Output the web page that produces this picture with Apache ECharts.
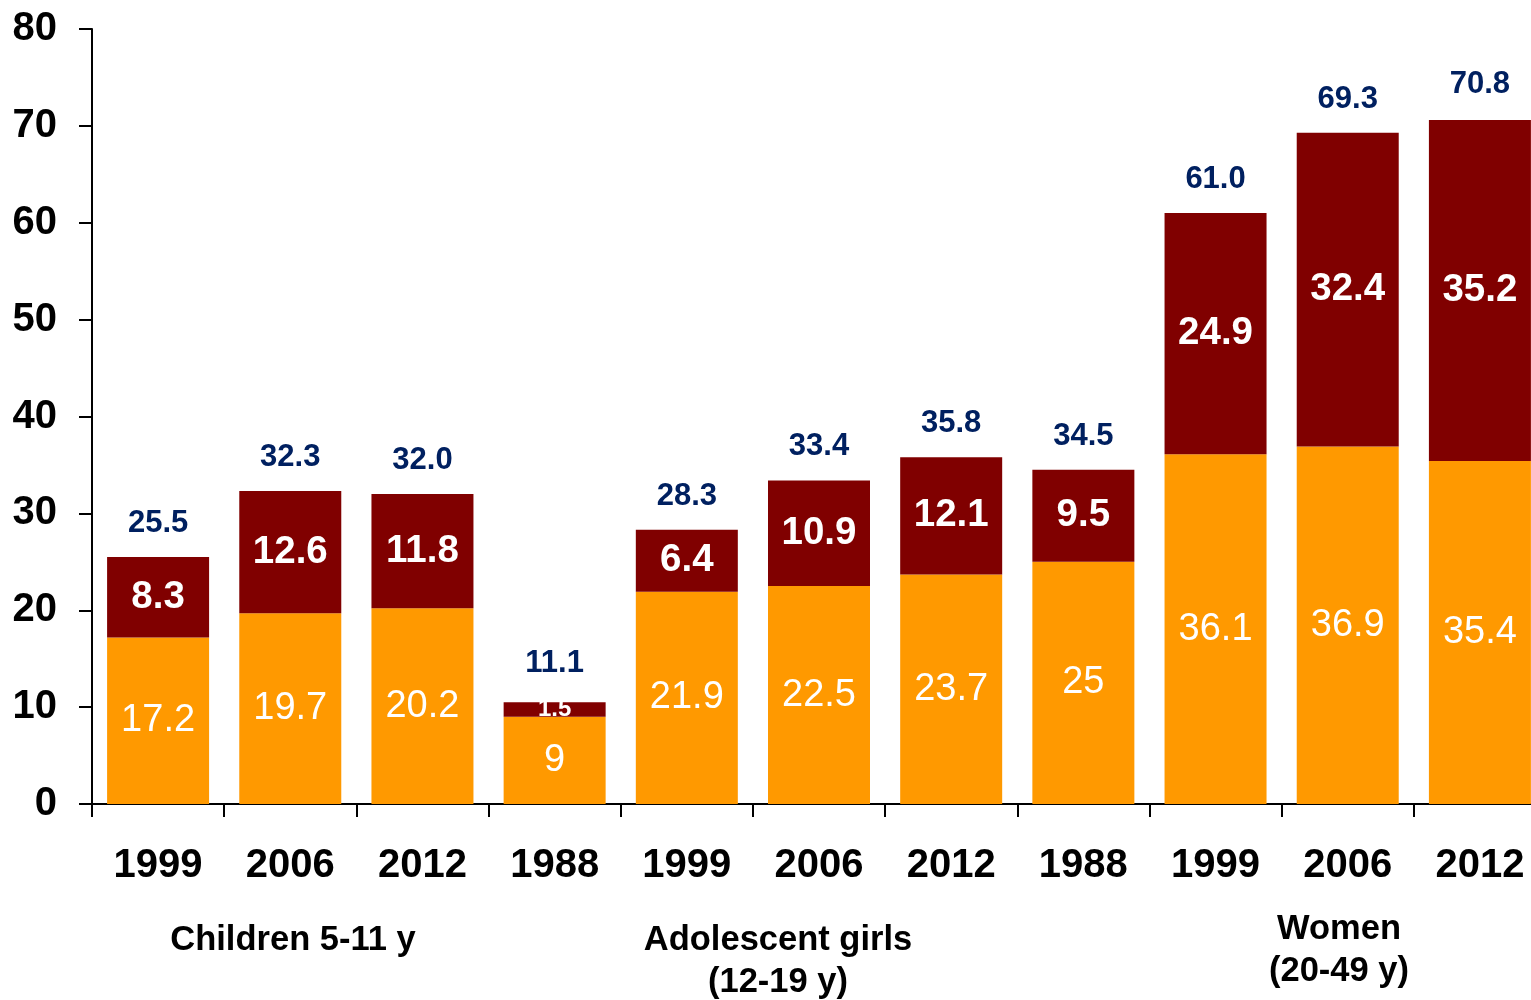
<!DOCTYPE html>
<html>
<head>
<meta charset="utf-8">
<title>Prevalence by survey year</title>
<script src="https://cdn.jsdelivr.net/npm/echarts@6/dist/echarts.min.js"></script>
<style>
  html, body { margin: 0; padding: 0; background: #ffffff; overflow: hidden; }
  /* The plot runs a little past the right edge of the page, so the last bar is cut off */
  #chart { width: 1546px; height: 1000px; }
</style>
</head>
<body>
<div id="chart"></div>
<script>
// Survey years along the axis, grouped by population
const categories = ['1999', '2006', '2012', '1988', '1999', '2006', '2012', '1988', '1999', '2006', '2012'];
// Lower (orange) segment values
const baseValues = [17.2, 19.7, 20.2, 9, 21.9, 22.5, 23.7, 25, 36.1, 36.9, 35.4];
// Upper (dark red) segment values
const topValues = [8.3, 12.6, 11.8, 1.5, 6.4, 10.9, 12.1, 9.5, 24.9, 32.4, 35.2];
// Totals printed above each bar
const totals = [25.5, 32.3, 32.0, 11.1, 28.3, 33.4, 35.8, 34.5, 61.0, 69.3, 70.8];
// Y axis range
const yMin = 0, yMax = 80, yStep = 10;
// Population group captions under the years
const groupNames = ['Children 5-11 y', 'Adolescent girls\n(12-19 y)', 'Women\n(20-49 y)'];

const FONT = '"Liberation Sans", Arial, sans-serif';
const ORANGE = '#FF9900';
const DARK_RED = '#800000';
const NAVY = '#002060';

const chart = echarts.init(document.getElementById('chart'), null, { renderer: 'canvas' });

// Thin upper segments get a smaller label so it fits inside the bar
const topData = topValues.map(v => v < 3
  ? { value: v, label: { fontSize: 24 } }
  : v);

const groupCaptionPos = [
  { x: 293, y: 940 },
  { x: 778, y: 961 },
  { x: 1339, y: 950 }
];

chart.setOption({
  backgroundColor: '#ffffff',
  animation: false,
  grid: { left: 92, right: 0, top: 29, bottom: 196, containLabel: false },
  xAxis: {
    type: 'category',
    data: categories,
    axisLine: { lineStyle: { color: '#000', width: 2 } },
    axisTick: { show: true, length: 13, interval: 0, lineStyle: { color: '#000', width: 2 } },
    axisLabel: {
      interval: 0, margin: 42,
      fontFamily: FONT, fontSize: 40, fontWeight: 'bold', color: '#000'
    }
  },
  yAxis: {
    type: 'value',
    min: yMin, max: yMax, interval: yStep,
    splitLine: { show: false },
    axisLine: { show: true, lineStyle: { color: '#000', width: 2 } },
    axisTick: { show: true, length: 13, inside: false, lineStyle: { color: '#000', width: 2 } },
    axisLabel: {
      margin: 35,
      fontFamily: FONT, fontSize: 40, fontWeight: 'bold', color: '#000'
    }
  },
  series: [
    {
      name: 'base',
      type: 'bar',
      stack: 'total',
      data: baseValues,
      barWidth: 102,
      itemStyle: { color: ORANGE },
      label: {
        show: true, position: 'inside',
        fontFamily: FONT, fontSize: 38, fontWeight: 'normal', color: '#fff'
      }
    },
    {
      name: 'upper',
      type: 'bar',
      stack: 'total',
      data: topData,
      barWidth: 102,
      itemStyle: { color: DARK_RED },
      label: {
        show: true, position: 'inside',
        fontFamily: FONT, fontSize: 38.5, fontWeight: 'bold', color: '#fff'
      }
    },
    {
      name: 'total',
      type: 'bar',
      data: totals,
      barWidth: 102,
      barGap: '-100%',
      z: 0,
      silent: true,
      itemStyle: { color: 'rgba(0,0,0,0)' },
      label: {
        show: true, position: 'top', distance: 18,
        formatter: p => p.value.toFixed(1),
        fontFamily: FONT, fontSize: 31, fontWeight: 'bold', color: NAVY
      }
    }
  ],
  graphic: groupNames.map((name, i) => ({
    type: 'text',
    x: groupCaptionPos[i].x,
    y: groupCaptionPos[i].y,
    style: {
      text: name,
      fontFamily: FONT, fontSize: 34.5, fontWeight: 'bold', fill: '#000',
      align: 'center', verticalAlign: 'middle', lineHeight: 42
    }
  }))
});
</script>
</body>
</html>
